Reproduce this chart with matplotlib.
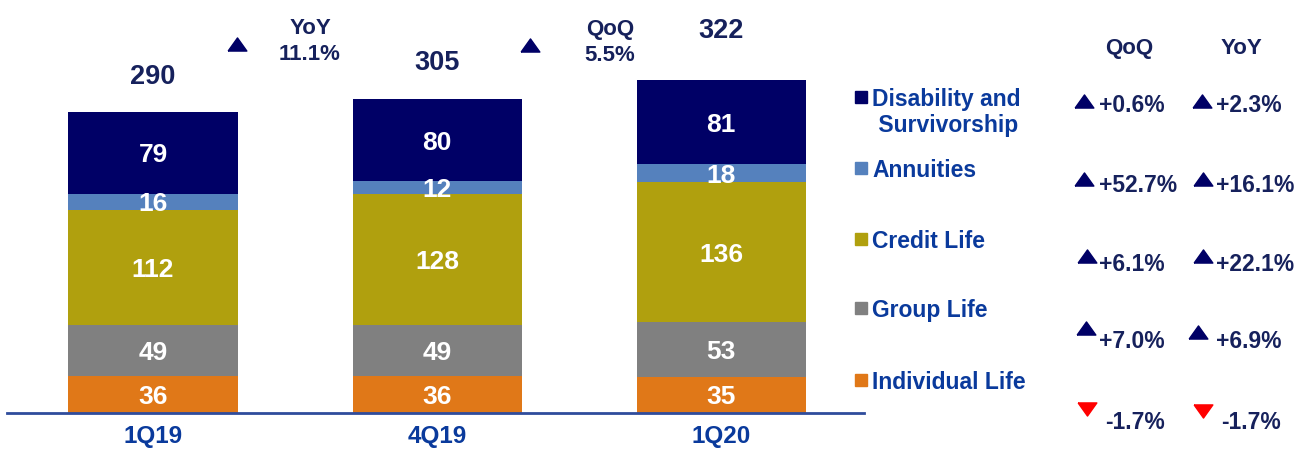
import matplotlib
matplotlib.use("Agg")
import matplotlib.pyplot as plt
import numpy as np

plt.rcParams['font.family'] = ['Liberation Sans', 'DejaVu Sans']
plt.rcParams['font.weight'] = 'bold'

# data
quarters = ['1Q19', '4Q19', '1Q20']
series_names = ['Individual Life', 'Group Life', 'Credit Life', 'Annuities',
                'Disability and\n Survivorship']
individual_life = [36, 36, 35]
group_life = [49, 49, 53]
credit_life = [112, 128, 136]
annuities = [16, 12, 18]
disability = [79, 80, 81]
totals = [290, 305, 322]
qoq_changes = ['+0.6%', '+52.7%', '+6.1%', '+7.0%', '-1.7%']
yoy_changes = ['+2.3%', '+16.1%', '+22.1%', '+6.9%', '-1.7%']
total_yoy = '11.1%'
total_qoq = '5.5%'

colors = ['#E07818', '#808080', '#B0A00E', '#5581BD', '#000066']
navy = '#000066'
blue_text = '#0A3A9C'
total_color = '#16215C'
VA = 'center_baseline'

W, H = 1299, 449
fig = plt.figure(figsize=(W / 100, H / 100), dpi=100)

# main bar axes (pixel layout: x 7..864, baseline at y=413)
ax = fig.add_axes([7 / W, 1 - 413 / H, 857 / W, 412 / H])
x = np.arange(len(quarters))
stack = [individual_life, group_life, credit_life, annuities, disability]
bottom = np.zeros(len(quarters))
for vals, c in zip(stack, colors):
    ax.bar(x, vals, width=0.595, bottom=bottom, color=c, edgecolor='none')
    for xi, b, v in zip(x, bottom, vals):
        ax.text(xi, b + v / 2, str(v), ha='center', va=VA, color='white',
                fontsize=19, fontweight='bold')
    bottom = bottom + np.array(vals)

label_offsets = [27.5, 28, 38]  # points above bar top
for xi, t, off in zip(x, totals, label_offsets):
    ax.annotate(str(t), (xi, bottom[xi]), xytext=(0, off), textcoords='offset points',
                ha='center', va=VA, fontsize=19.5, fontweight='bold',
                color=total_color, annotation_clip=False)

ax.set_xlim(-0.514, 2.503)
ax.set_ylim(0, 400)
for s in ['top', 'right', 'left']:
    ax.spines[s].set_visible(False)
ax.spines['bottom'].set_color('#2F4C9C')
ax.spines['bottom'].set_linewidth(2)
ax.set_yticks([])
ax.set_xticks(x)
ax.set_xticklabels(quarters, fontsize=17.5, fontweight='bold', color=blue_text)
ax.tick_params(axis='x', length=0, pad=8.5)

# overlay in pixel coordinates for annotations and legend
ov = fig.add_axes([0, 0, 1, 1])
ov.set_xlim(0, W)
ov.set_ylim(H, 0)
ov.axis('off')
ov.patch.set_alpha(0)

tri_up = [(-1, -0.7), (1, -0.7), (0, 0.7), (-1, -0.7)]
tri_down = [(-1, 0.7), (1, 0.7), (0, -0.7), (-1, 0.7)]


def tri(px, py, up=True):
    ov.plot(px, py, marker=tri_up if up else tri_down,
            color=navy if up else '#FF0000', markersize=13.5, linestyle='none')


# overall growth markers
tri(237, 44)
ov.text(310, 26, 'YoY', ha='center', va=VA, fontsize=16, color=total_color)
ov.text(310, 52, total_yoy, ha='center', va=VA, fontsize=16, color=total_color)
tri(530, 45)
ov.text(610, 27, 'QoQ', ha='center', va=VA, fontsize=16, color=total_color)
ov.text(610, 53, total_qoq, ha='center', va=VA, fontsize=16, color=total_color)

# legend (top to bottom)
legend_y = [97, 168, 239, 308, 380]
legend_names = series_names[::-1]
legend_colors = colors[::-1]
for y, name, c in zip(legend_y, legend_names, legend_colors):
    ov.plot(861, y, marker='s', color=c, markersize=9, linestyle='none')
    lines = name.split('\n')
    for i, line in enumerate(lines):
        ov.text(872, y + 26 * i, line, ha='left', va=VA, fontsize=16.5,
                color=blue_text)

# QoQ / YoY table
ov.text(1129, 46, 'QoQ', ha='center', va=VA, fontsize=16, color=total_color)
ov.text(1241, 46, 'YoY', ha='center', va=VA, fontsize=16, color=total_color)
row_y = [103, 183, 262, 339, 420]
qoq_tri = [(1084, 101), (1084, 179), (1087, 256), (1086, 328), (1087, 409)]
yoy_tri = [(1202, 101), (1203, 179), (1203, 256), (1198, 332), (1203, 411)]
for y, q, yy, tq, ty in zip(row_y, qoq_changes, yoy_changes, qoq_tri, yoy_tri):
    up = not q.startswith('-')
    tri(tq[0], tq[1], up)
    ov.text(1099 if up else 1105, y, q, ha='left', va=VA, fontsize=16.5,
            color=total_color)
    up = not yy.startswith('-')
    tri(ty[0], ty[1], up)
    ov.text(1216 if up else 1221, y, yy, ha='left', va=VA, fontsize=16.5,
            color=total_color)

fig.savefig('out.png', dpi=100)
